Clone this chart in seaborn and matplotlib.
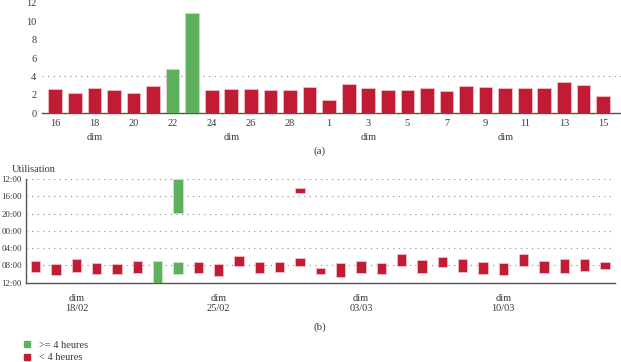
import numpy as np
import pandas as pd
import matplotlib
matplotlib.use("Agg")
import matplotlib.pyplot as plt
import matplotlib.transforms as mtransforms
from matplotlib.lines import Line2D
import seaborn as sns

# days shown (16/02 -> 15/03)
days = list(range(16, 30)) + list(range(1, 16))
sundays = ["18/02", "25/02", "03/03", "10/03"]
sunday_idx = [2, 9, 16, 23]

# (a) hours of use per day
hours = [2.67, 2.17, 2.78, 2.49, 2.17, 2.96, 4.84, 10.84, 2.49, 2.67, 2.67, 2.49, 2.53, 2.89,
         1.41, 3.14, 2.78, 2.53, 2.53, 2.78, 2.39, 2.96, 2.85, 2.78, 2.78, 2.78, 3.36, 3.07, 1.88]

# (b) usage periods: day index, start, end (hours, -12 = noon day before, 12 = noon)
seg_day = [0, 1, 2, 3, 4, 5, 6, 7, 7, 8, 9, 10, 11, 12, 13, 13,
           14, 15, 16, 17, 18, 19, 20, 21, 22, 23, 24, 25, 26, 27, 28]
seg_start = [7.07, 7.69, 6.61, 7.38, 7.77, 7.07, 7.0, -12.0, 7.23, 7.3, 7.69, 5.84, 7.3, 7.15, 6.3, -9.84,
             8.7, 7.54, 7.07, 7.46, 5.45, 6.84, 6.0, 6.61, 7.3, 7.38, 5.45, 6.92, 6.53, 6.46, 7.15]
seg_end = [9.47, 10.16, 9.47, 9.93, 9.93, 9.85, 12.0, -4.05, 9.93, 9.85, 10.4, 8.23, 9.7, 9.47, 8.08, -8.68,
           10.0, 10.63, 9.85, 10.08, 8.15, 9.85, 8.46, 9.54, 10.0, 10.16, 8.23, 9.7, 9.7, 9.31, 8.93]
seg_long = [False] * 6 + [True, True, True] + [False] * 22

RED = "#c11c34"
GREEN = "#5db15d"
GRID = "#8a8a8a"
TXT = "#3a3a3a"

sns.set_style("white")
plt.rcParams["font.family"] = ["Liberation Serif", "DejaVu Serif"]
plt.rcParams["font.size"] = 7.5
plt.rcParams["text.color"] = TXT
plt.rcParams["xtick.color"] = TXT
plt.rcParams["ytick.color"] = TXT

fig = plt.figure(figsize=(6.21, 3.62), dpi=100)

# ---- (a)
ax1 = fig.add_axes([0.0676, 0.687, 0.9324, 0.3055])
df = pd.DataFrame({"jour": np.arange(len(hours)), "heures": hours})
df["statut"] = np.where(df["heures"] >= 4, ">= 4 heures", "< 4 heures")
sns.barplot(df, x="jour", y="heures", hue="statut", dodge=False, width=0.7,
            palette={">= 4 heures": GREEN, "< 4 heures": RED}, legend=False,
            edgecolor="#f2c9cf", linewidth=0.5, saturation=1, ax=ax1, zorder=3)
ax1.axhline(4, color=GRID, ls=(0, (1, 4)), lw=0.8, zorder=1)
ax1.set_xlim(-0.68, 28.92)
ax1.set_ylim(0, 12)
ax1.set_yticks(range(0, 13, 2))
ax1.set_xticks(range(0, 29, 2), labels=[str(days[i]) for i in range(0, 29, 2)])
ax1.tick_params(axis="both", which="both", length=0)
ax1.tick_params(axis="x", pad=4)
ax1.tick_params(axis="y", pad=4)
ax1.set_xlabel("")
ax1.set_ylabel("")
trans = mtransforms.blended_transform_factory(ax1.transData, fig.transFigure)
for i in sunday_idx:
    ax1.text(i, 1 - 137 / 362, "dim", transform=trans, ha="center", va="center")
for s in ["top", "right", "left"]:
    ax1.spines[s].set_visible(False)
ax1.spines["bottom"].set_color("#555555")
ax1.spines["bottom"].set_linewidth(1.0)

# ---- (b)
ax2 = fig.add_axes([0.0419, 0.219, 0.9485, 0.2865])
for d, s, e, lg in zip(seg_day, seg_start, seg_end, seg_long):
    ax2.bar(d, e - s, bottom=s, width=0.46, color=GREEN if lg else RED,
            edgecolor="#f2c9cf" if not lg else "#cfe8cf", linewidth=0.5, zorder=3)
ax2.set_ylim(12, -12)
yt = [-12, -8, -4, 0, 4, 8, 12]
ax2.set_yticks(yt, labels=["12:00", "16:00", "20:00", "00:00", "04:00", "08:00", "12:00"],
               fontsize=6.5)
for v in yt[:-1]:
    ax2.axhline(v, color=GRID, ls=(0, (1, 4)), lw=0.8, zorder=1)
ax2.set_xlim(-0.48, 28.5)
xl = [""] * 29
for i, lab in zip(sunday_idx, sundays):
    xl[i] = "dim\n" + lab
ax2.set_xticks(range(29), labels=xl)
ax2.tick_params(axis="x", length=3, width=0.8, color="#555555", pad=5)
ax2.tick_params(axis="y", length=0, pad=3)
for s in ["top", "right"]:
    ax2.spines[s].set_visible(False)
for s in ["left", "bottom"]:
    ax2.spines[s].set_color("#555555")
    ax2.spines[s].set_linewidth(1.0)
fig.text(12 / 621, 1 - 169 / 362, "Utilisation", va="center", ha="left")

fig.text(320 / 621, 1 - 151 / 362, "(a)", ha="center", va="center", fontsize=8)
fig.text(320 / 621, 1 - 327 / 362, "(b)", ha="center", va="center", fontsize=8)

handles = [Line2D([], [], ls="", marker="s", markersize=5, color=GREEN, label=">= 4 heures"),
           Line2D([], [], ls="", marker="s", markersize=5, color=RED, label="< 4 heures")]
fig.legend(handles=handles, loc="upper left", bbox_to_anchor=(14 / 621, 1 - 335 / 362),
           frameon=False, handletextpad=0.4, labelspacing=0.35, borderpad=0, handlelength=1.5)

fig.savefig("out.png", dpi=100)
